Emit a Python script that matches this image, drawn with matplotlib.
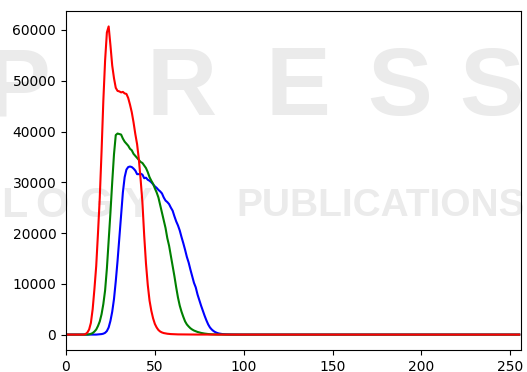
import matplotlib
matplotlib.use("Agg")
import matplotlib.pyplot as plt
import numpy as np

# Histogram counts per intensity level (0..255)
blue_vals = ([0] * 18 +
             [30, 60, 100, 180, 350, 700, 1400, 2700, 4500, 7000,
              10500, 14500, 19000, 23500, 28000, 31000, 32500, 33000, 33100, 33000,
              32700, 32300, 31600, 31600, 31700, 31500, 30800, 30900, 30500, 30300,
              30000, 29600, 29200, 28900, 28500, 28200, 27800, 27000, 26400, 26100,
              25700, 25000, 24400, 23300, 22300, 21500, 20500, 19200, 18000, 16700,
              15300, 14200, 12800, 11500, 10200, 9300, 7900, 6800, 5700, 4700,
              3700, 2800, 2000, 1400, 1000, 700, 480, 330, 220, 150,
              100, 70, 50, 35, 25, 18, 12, 8, 5, 3] +
             [0] * 158)

green_vals = ([0] * 13 +
              [50, 150, 300, 600, 1000, 1700, 2600, 4000, 6000, 8700,
               13000, 18500, 24000, 30000, 35500, 39300, 39600, 39500, 39400, 38600,
               38000, 37600, 37200, 36600, 36300, 35600, 35200, 34800, 34400, 34000,
               33800, 33300, 32800, 32000, 31000, 30300, 29700, 28800, 28000, 27000,
               25500, 24000, 22500, 21000, 19000, 17500, 15500, 13500, 11500, 9300,
               7300, 5700, 4500, 3500, 2600, 2000, 1600, 1250, 1000, 800,
               650, 520, 420, 330, 260, 200, 150, 110, 80, 60,
               45, 30, 20, 12, 8, 5, 3] +
              [0] * 166)

red_vals = ([0] * 11 +
            [100, 400, 1000, 2300, 5000, 9000, 13500, 20000, 27000, 36000,
             46000, 54000, 59500, 60700, 57000, 53000, 50500, 48600, 48000, 47900,
             47700, 47800, 47500, 47400, 46600, 45300, 43800, 41800, 39500, 37500,
             34500, 30500, 26000, 19500, 14000, 9800, 6700, 4700, 3200, 2100,
             1400, 900, 600, 420, 300, 230, 170, 130, 100, 80,
             60, 50, 40, 35, 30, 25, 20, 18, 15, 12,
             10, 8, 6, 5, 4, 3, 2, 1] +
            [0] * 177)

channels = [("b", blue_vals), ("g", green_vals), ("r", red_vals)]

fig = plt.figure(figsize=(5.27, 3.72), dpi=100)
ax = fig.add_axes([66 / 527, 1 - 350 / 372, (521 - 66) / 527, (350 - 11) / 372])
ax.patch.set_alpha(0)

# faint watermark text behind the plot
wm = "#ebebeb"
for ch, x in zip("PRESS", [18, 182, 298, 400, 492]):
    fig.text(x / 527, 1 - 90 / 372, ch, fontsize=70, fontweight="bold", color=wm,
             ha="center", va="center", zorder=-5, family="Liberation Sans")
for ch, x in zip("LOGY", [14, 52, 96, 138]):
    fig.text(x / 527, 1 - 206 / 372, ch, fontsize=31, fontweight="bold", color=wm,
             ha="center", va="center", zorder=-5, family="Liberation Sans")
fig.text(236 / 527, 1 - 206 / 372, "PUBLICATIONS", fontsize=28, fontweight="bold",
         color=wm, ha="left", va="center", zorder=-5, family="Liberation Sans")

for col, vals in channels:
    ax.plot(np.arange(len(vals)), vals, color=col)

ax.set_xlim([0, 256])
fig.savefig("out.png", dpi=100)
